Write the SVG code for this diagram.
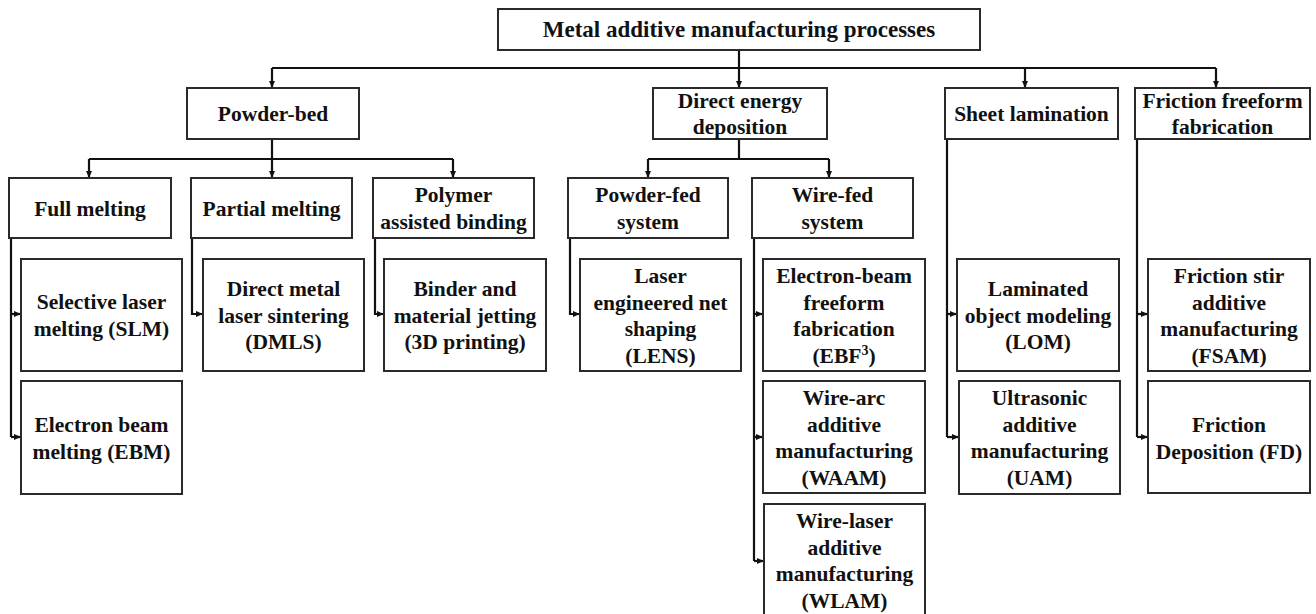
<svg xmlns="http://www.w3.org/2000/svg" width="1316" height="614" viewBox="0 0 1316 614">
<style>
.box{fill:#fff;stroke:#2a2a2a;stroke-width:2}
.t{font-family:"Liberation Serif","Times New Roman",serif;font-weight:bold;font-size:21.5px;fill:#111;text-anchor:middle}
.title{font-size:23px}
.c{fill:none;stroke:#111;stroke-width:2.2}
.a{fill:none;stroke:#111;stroke-width:2.2;marker-end:url(#ah)}
</style>
<defs>
<marker id="ah" markerUnits="userSpaceOnUse" markerWidth="7" markerHeight="6" refX="6" refY="3" orient="auto">
<path d="M0,0 L7,3 L0,6 z" fill="#111"/>
</marker>
</defs>
<rect width="1316" height="614" fill="#fff"/>
<g id="connectors">
<line class="c" x1="739" y1="50" x2="739" y2="68"/>
<line class="c" x1="272" y1="68" x2="1216" y2="68"/>
<line class="a" x1="739" y1="68" x2="739" y2="87"/>
<line class="a" x1="272" y1="68" x2="272" y2="87"/>
<line class="a" x1="1025" y1="68" x2="1025" y2="87"/>
<line class="a" x1="1216" y1="68" x2="1216" y2="87"/>
<line class="a" x1="272" y1="139" x2="272" y2="177"/>
<line class="c" x1="89" y1="159" x2="453" y2="159"/>
<line class="a" x1="89" y1="159" x2="89" y2="177"/>
<line class="a" x1="453" y1="159" x2="453" y2="177"/>
<line class="c" x1="739" y1="139" x2="739" y2="159"/>
<line class="c" x1="648" y1="159" x2="829" y2="159"/>
<line class="a" x1="648" y1="159" x2="648" y2="177"/>
<line class="a" x1="829" y1="159" x2="829" y2="177"/>
<polyline class="c" points="11,238 11,437"/>
<polyline class="a" points="11,314 20,314"/>
<polyline class="a" points="11,437 20,437"/>
<polyline class="a" points="192,238 192,314 202,314"/>
<polyline class="a" points="375,238 375,314 383,314"/>
<polyline class="a" points="570,238 570,314 579,314"/>
<polyline class="c" points="754,238 754,561"/>
<polyline class="a" points="754,314 762,314"/>
<polyline class="a" points="754,437 762,437"/>
<polyline class="a" points="754,561 763,561"/>
<polyline class="c" points="947,139 947,437"/>
<polyline class="a" points="947,314 956,314"/>
<polyline class="a" points="947,437 958,437"/>
<polyline class="c" points="1137,139 1137,437"/>
<polyline class="a" points="1137,314 1147,314"/>
<polyline class="a" points="1137,437 1147,437"/>
</g>
<g id="n-root"><rect class="box" x="498" y="9" width="482" height="41"/><text class="t title" x="739" y="37">Metal additive manufacturing processes</text></g>
<g id="n-powderbed"><rect class="box" x="187" y="88" width="172" height="51"/><text class="t" x="273" y="121">Powder-bed</text></g>
<g id="n-ded"><rect class="box" x="653" y="88" width="174" height="51"/><text class="t" x="740" y="108">Direct energy</text><text class="t" x="740" y="134">deposition</text></g>
<g id="n-sheet"><rect class="box" x="945" y="88" width="173" height="51"/><text class="t" x="1031.5" y="121">Sheet lamination</text></g>
<g id="n-friction"><rect class="box" x="1135" y="88" width="175" height="51"/><text class="t" x="1222.5" y="108">Friction freeform</text><text class="t" x="1222.5" y="134">fabrication</text></g>
<g id="n-full"><rect class="box" x="9" y="178" width="162" height="60"/><text class="t" x="90" y="215.5">Full melting</text></g>
<g id="n-partial"><rect class="box" x="191" y="178" width="161" height="60"/><text class="t" x="271.5" y="215.5">Partial melting</text></g>
<g id="n-polymer"><rect class="box" x="373" y="178" width="161" height="60"/><text class="t" x="453.5" y="202">Polymer</text><text class="t" x="453.5" y="229">assisted binding</text></g>
<g id="n-powderfed"><rect class="box" x="568" y="178" width="160" height="60"/><text class="t" x="648" y="202">Powder-fed</text><text class="t" x="648" y="229">system</text></g>
<g id="n-wirefed"><rect class="box" x="752" y="178" width="161" height="60"/><text class="t" x="832.5" y="202">Wire-fed</text><text class="t" x="832.5" y="229">system</text></g>
<g id="n-slm"><rect class="box" x="21" y="259" width="161" height="112"/><text class="t" x="101.5" y="309">Selective laser</text><text class="t" x="101.5" y="336">melting (SLM)</text></g>
<g id="n-ebm"><rect class="box" x="21" y="381" width="161" height="113"/><text class="t" x="101.5" y="432">Electron beam</text><text class="t" x="101.5" y="458.5">melting (EBM)</text></g>
<g id="n-dmls"><rect class="box" x="203" y="259" width="161" height="112"/><text class="t" x="283.5" y="296">Direct metal</text><text class="t" x="283.5" y="322.5">laser sintering</text><text class="t" x="283.5" y="349">(DMLS)</text></g>
<g id="n-binder"><rect class="box" x="384" y="259" width="162" height="112"/><text class="t" x="465" y="296">Binder and</text><text class="t" x="465" y="322.5">material jetting</text><text class="t" x="465" y="349">(3D printing)</text></g>
<g id="n-lens"><rect class="box" x="580" y="259" width="161" height="112"/><text class="t" x="660.5" y="283">Laser</text><text class="t" x="660.5" y="309.5">engineered net</text><text class="t" x="660.5" y="336">shaping</text><text class="t" x="660.5" y="362.5">(LENS)</text></g>
<g id="n-ebf"><rect class="box" x="763" y="259" width="162" height="112"/><text class="t" x="844" y="283">Electron-beam</text><text class="t" x="844" y="309.5">freeform</text><text class="t" x="844" y="336">fabrication</text><text class="t" x="844" y="362.5">(EBF<tspan font-size="14px" dy="-8">3</tspan><tspan dy="8">)</tspan></text></g>
<g id="n-waam"><rect class="box" x="763" y="381" width="162" height="112"/><text class="t" x="844" y="405">Wire-arc</text><text class="t" x="844" y="431.5">additive</text><text class="t" x="844" y="458">manufacturing</text><text class="t" x="844" y="484.5">(WAAM)</text></g>
<g id="n-wlam"><rect class="box" x="764" y="504" width="161" height="111"/><text class="t" x="844.5" y="528">Wire-laser</text><text class="t" x="844.5" y="554.5">additive</text><text class="t" x="844.5" y="581">manufacturing</text><text class="t" x="844.5" y="607.5">(WLAM)</text></g>
<g id="n-lom"><rect class="box" x="957" y="259" width="162" height="112"/><text class="t" x="1038" y="296">Laminated</text><text class="t" x="1038" y="322.5">object modeling</text><text class="t" x="1038" y="349">(LOM)</text></g>
<g id="n-uam"><rect class="box" x="959" y="381" width="161" height="113"/><text class="t" x="1039.5" y="405">Ultrasonic</text><text class="t" x="1039.5" y="431.5">additive</text><text class="t" x="1039.5" y="458">manufacturing</text><text class="t" x="1039.5" y="484.5">(UAM)</text></g>
<g id="n-fsam"><rect class="box" x="1148" y="259" width="162" height="112"/><text class="t" x="1229" y="283">Friction stir</text><text class="t" x="1229" y="309.5">additive</text><text class="t" x="1229" y="336">manufacturing</text><text class="t" x="1229" y="362.5">(FSAM)</text></g>
<g id="n-fd"><rect class="box" x="1148" y="381" width="162" height="112"/><text class="t" x="1229" y="432">Friction</text><text class="t" x="1229" y="458.5">Deposition (FD)</text></g>
</svg>
